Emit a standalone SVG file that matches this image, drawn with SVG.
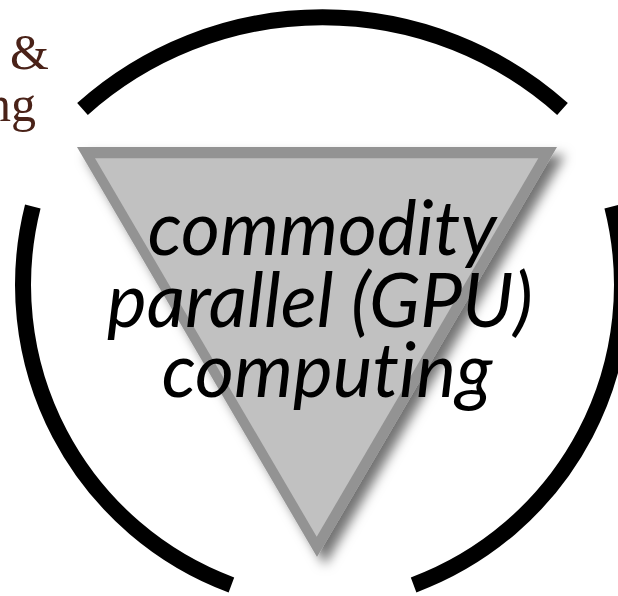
<svg xmlns="http://www.w3.org/2000/svg" width="618" height="596" viewBox="0 0 618 596">
  <style>
    .arc { fill: none; stroke: #000; stroke-width: 16; stroke-linecap: butt; }
    .label { font-family: Lato, "Open Sans", sans-serif; font-style: italic; font-size: 75px; fill: #000; text-anchor: middle; font-variant-ligatures: none; }
    .side { font-family: "Liberation Serif", serif; font-size: 50px; fill: #4a2218; text-anchor: end; }
  </style>
  <defs>
    <filter id="drop" x="-20%" y="-20%" width="140%" height="140%">
      <feGaussianBlur in="SourceAlpha" stdDeviation="6"/>
      <feOffset dx="8" dy="8" result="blur"/>
      <feFlood flood-color="#000" flood-opacity="0.55"/>
      <feComposite in2="blur" operator="in"/>
      <feMerge>
        <feMergeNode/>
        <feMergeNode in="SourceGraphic"/>
      </feMerge>
    </filter>
  </defs>

  <!-- partial side caption -->
  <g id="caption">
    <text class="side" x="49" y="69">&amp;</text>
    <text class="side" x="36" y="121">ng</text>
  </g>

  <!-- surrounding ring of three arcs -->
  <g id="ring">
    <path class="arc" d="M 82.5 109 A 360 360 0 0 1 562.5 109"/>
    <path class="arc" d="M 231.4 584.9 A 320 320 0 0 1 32.8 206.5"/>
    <path class="arc" d="M 413.6 584.9 A 320 320 0 0 0 612.2 206.5"/>
  </g>

  <!-- inverted triangle node -->
  <g id="gpu" filter="url(#drop)">
    <polygon points="77,147 557,147 317,557" fill="#939393"/>
    <polygon points="95,158.3 538.3,158.3 316.7,536.7" fill="#c1c1c1"/>
  </g>
  <g id="gpu-label">
    <text class="label" x="322" y="255">commodity</text>
    <text class="label" x="320" y="327">parallel (GPU)</text>
    <text class="label" x="327" y="397">computing</text>
  </g>
</svg>
